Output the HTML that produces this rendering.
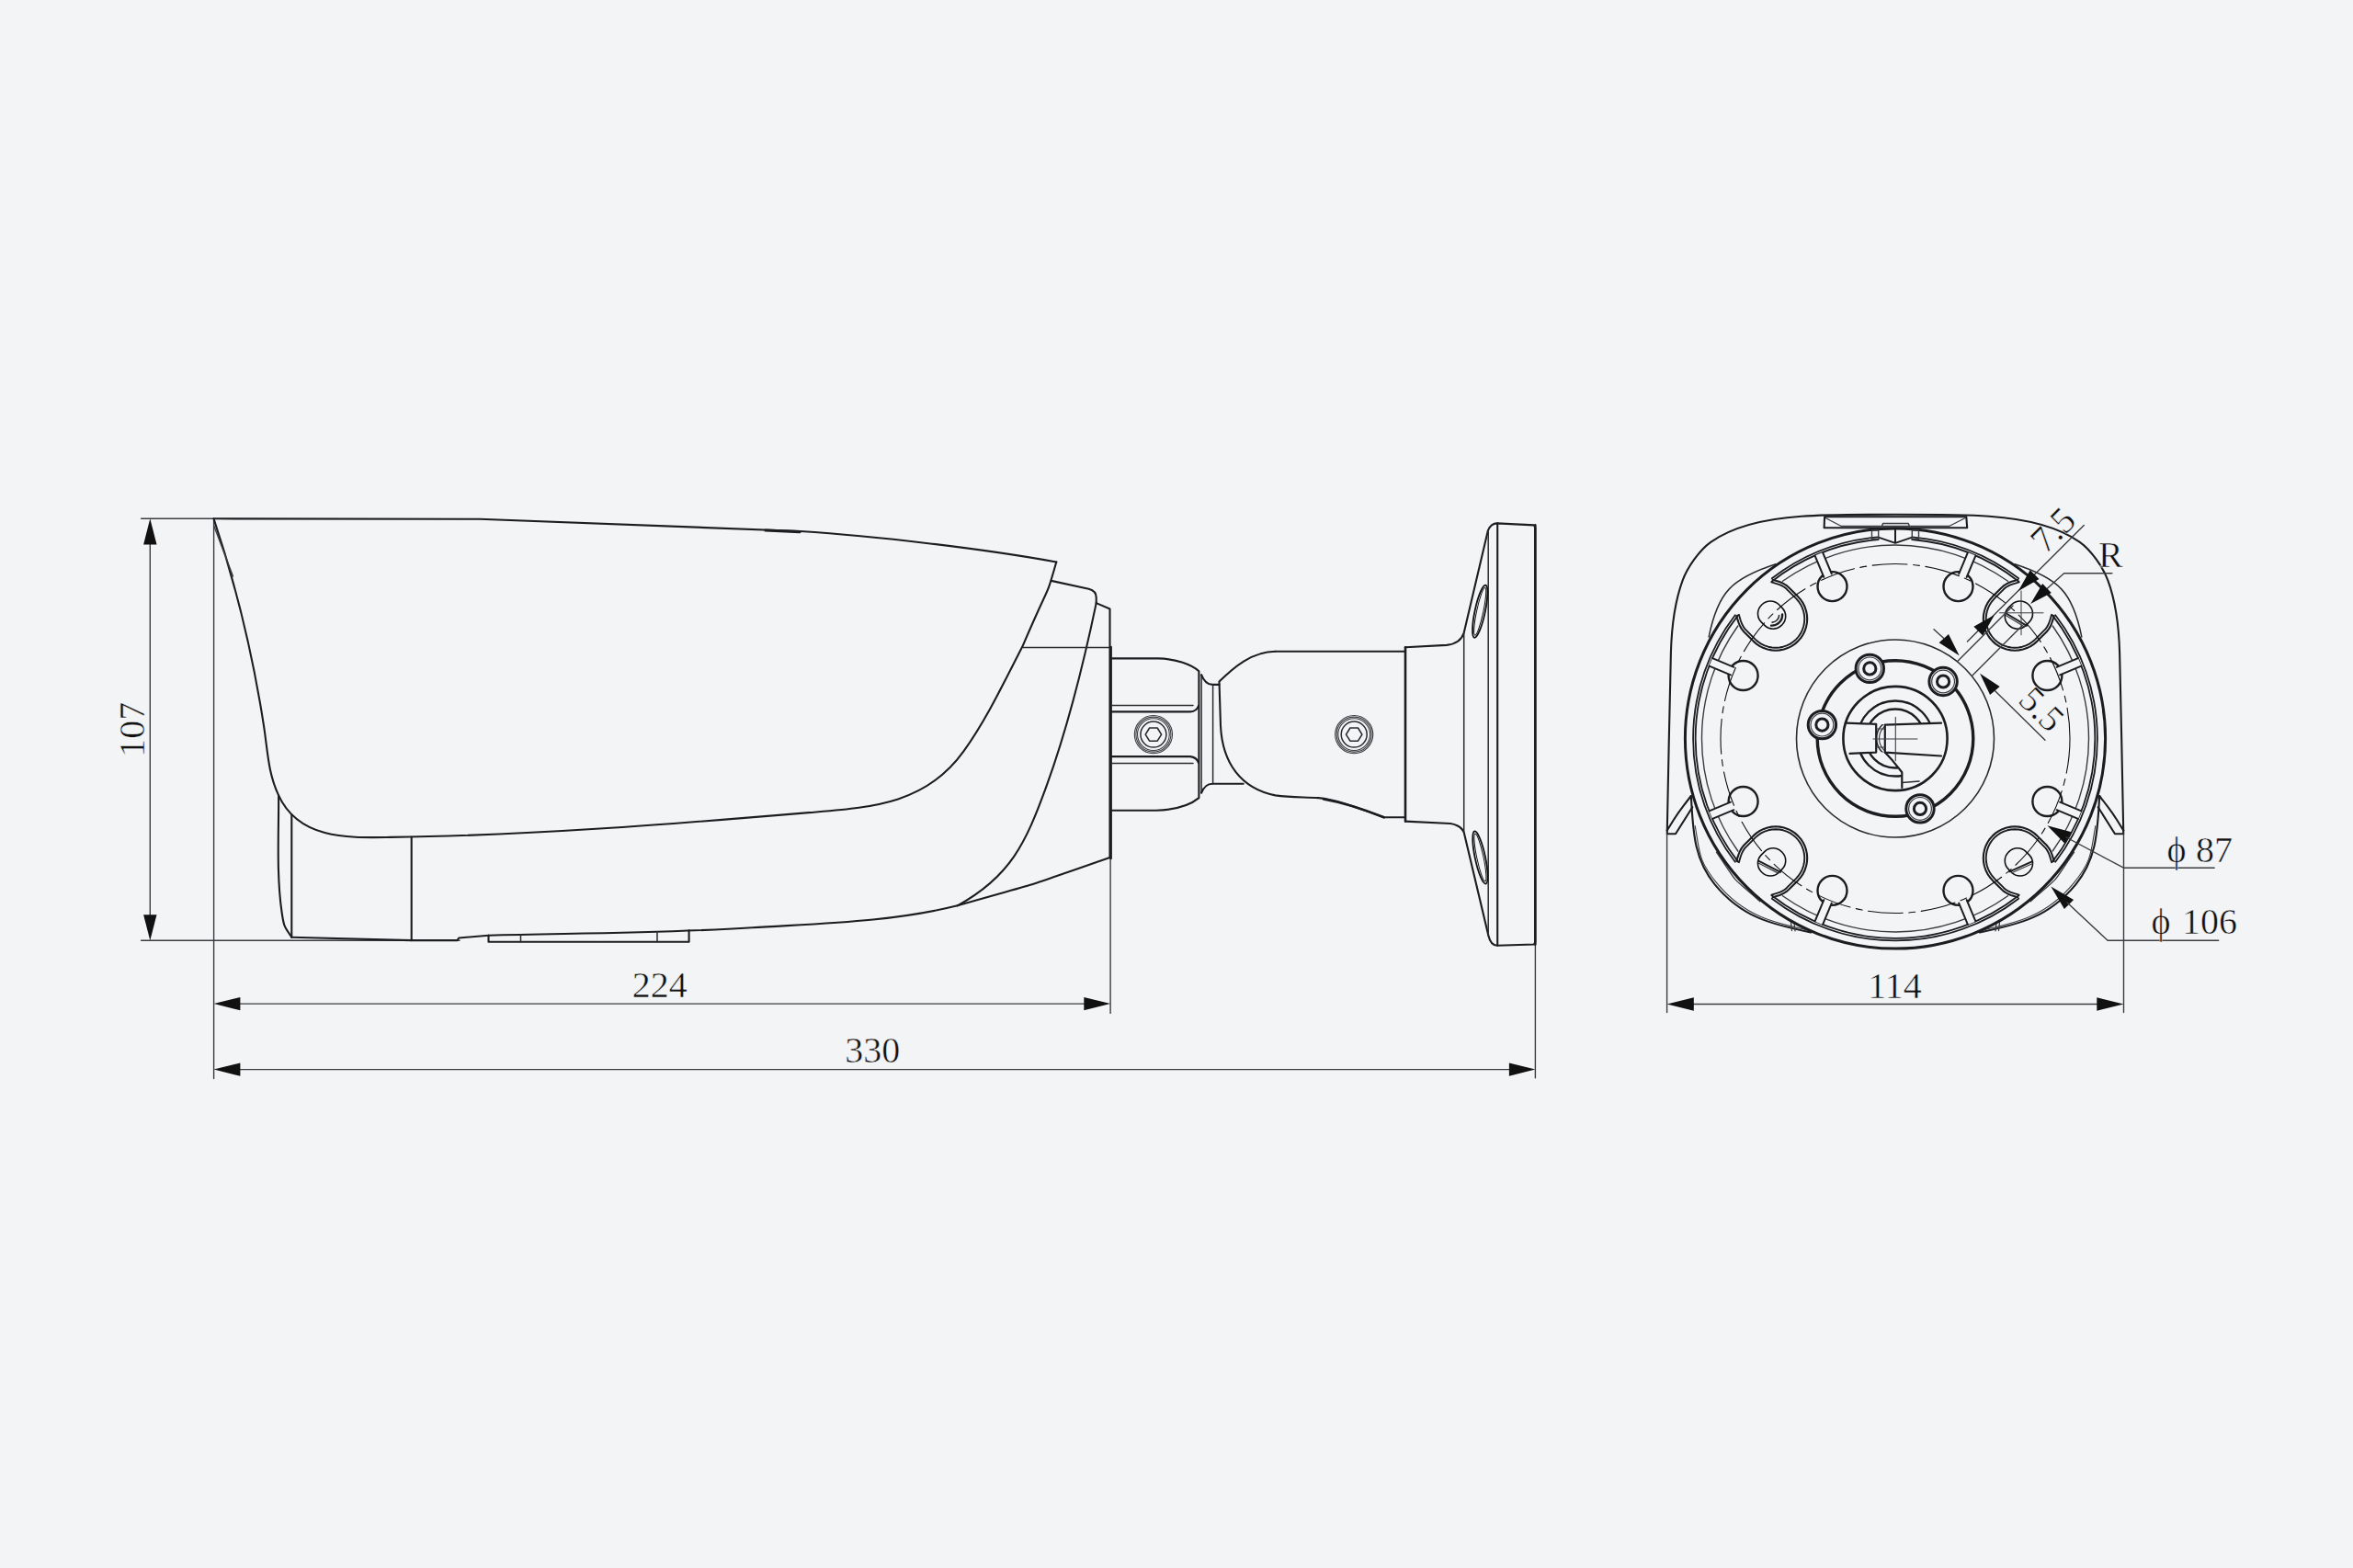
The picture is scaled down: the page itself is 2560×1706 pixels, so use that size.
<!DOCTYPE html>
<html><head><meta charset="utf-8"><style>
html,body{margin:0;padding:0;background:#f3f4f6;overflow:hidden;width:2560px;height:1706px;}
svg{display:block;}
text{font-family:"Liberation Serif",serif;fill:#111;stroke:#f3f4f6;stroke-width:0.5px;}
</style></head><body>
<svg width="2560" height="1706" viewBox="0 0 2560 1706" fill="none" stroke="#111" stroke-linecap="round" stroke-linejoin="round">
<line x1="153.6" y1="564.3" x2="232.7" y2="564.3" stroke-width="1.4" stroke="#3a3c40" />
<line x1="153.6" y1="1023.3" x2="500" y2="1023.3" stroke-width="1.4" stroke="#3a3c40" />
<line x1="163.3" y1="590" x2="163.3" y2="998" stroke-width="1.4" stroke="#3a3c40" />
<polygon points="163.3,564.3 156.1,592.4 170.5,592.4" fill="#111" stroke="none"/>
<polygon points="163.3,1023.3 170.5,995.2 156.1,995.2" fill="#111" stroke="none"/>
<line x1="232.6" y1="564.3" x2="232.6" y2="1173.5" stroke-width="1.4" stroke="#3a3c40" />
<line x1="258" y1="1092.1" x2="1182" y2="1092.1" stroke-width="1.4" stroke="#3a3c40" />
<polygon points="232.6,1092.1 261.4,1099.3 261.4,1084.9" fill="#111" stroke="none"/>
<polygon points="1208.1,1092.1 1179.3,1084.9 1179.3,1099.3" fill="#111" stroke="none"/>
<line x1="1208.1" y1="934.3" x2="1208.1" y2="1102.4" stroke-width="1.4" stroke="#3a3c40" />
<line x1="258" y1="1163.6" x2="1645" y2="1163.6" stroke-width="1.4" stroke="#3a3c40" />
<polygon points="232.6,1163.6 261.4,1170.8 261.4,1156.4" fill="#111" stroke="none"/>
<polygon points="1670.4,1163.6 1641.9,1156.4 1641.9,1170.8" fill="#111" stroke="none"/>
<line x1="1670.4" y1="1027.5" x2="1670.4" y2="1172.8" stroke-width="1.4" stroke="#3a3c40" />
<text x="717.8" y="1085.1" font-size="40" text-anchor="middle" >224</text>
<text x="949.2" y="1156" font-size="40" text-anchor="middle" >330</text>
<text x="157.3" y="793.8" font-size="40" text-anchor="middle" transform="rotate(-90 157.3 793.8)" >107</text>
<path d="M232.7,564.3 L522,564.7 L871,578 C950,583 1070,597 1149.3,611.5" stroke-width="2.1" stroke="#1c1d20" />
<line x1="833" y1="577" x2="870" y2="578.6" stroke-width="3.2" stroke="#1c1d20" />
<path d="M1149.3,611.5 C1136.2,656.1 1146.3,624.5 1112.2,703.8 C1092.4,742.1 1073.6,782.2 1048.4,817.4 C1006.7,875.7 947,878.4 880,884.1 C729.4,896.8 576,909 425,910.9 C380,911.5 325.4,914 303.1,865.4 C291.3,839.7 291.3,817.2 287,789.6 C275.1,712.4 257.4,638.6 232.6,564.6" stroke-width="2.1" stroke="#1c1d20" />
<line x1="232.6" y1="571.8" x2="253.5" y2="627" stroke-width="1.4" stroke="#3a3c40" />
<path d="M303.1,865.4 C303.4,906.9 300.6,950.6 306.5,992 C308.9,1009.1 309.5,1007.7 317.3,1019.7" stroke-width="2.1" stroke="#1c1d20" />
<line x1="317.3" y1="886.2" x2="317.3" y2="1019.7" stroke-width="2.1" stroke="#1c1d20" />
<line x1="447.7" y1="910.9" x2="447.7" y2="1023.1" stroke-width="2.1" stroke="#1c1d20" />
<polyline points="317.3,1019.7 447.7,1023.1 497.5,1023.1 499.2,1020.5 531.5,1017.7" stroke-width="2.1" stroke="#1c1d20" />
<path d="M531.5,1017.7 C627.1,1015.3 723,1015.3 818.5,1009.3 C891.9,1004.7 970.1,1003.3 1041.7,985.3" stroke-width="2.1" stroke="#1c1d20" />
<path d="M1041.7,985.3 C1153.6,953.4 1098.3,970.9 1207.5,933" stroke-width="2.1" stroke="#1c1d20" />
<polyline points="531.5,1017.7 531.5,1024.7 749.6,1024.7 749.6,1012.4" stroke-width="2.1" stroke="#1c1d20" />
<line x1="566.5" y1="1016.8" x2="566.5" y2="1024.7" stroke-width="1.5" stroke="#2a2b2f" />
<line x1="715" y1="1013.8" x2="715" y2="1024.7" stroke-width="1.5" stroke="#2a2b2f" />
<path d="M1143.7,631.9 L1184.5,640.8 Q1192.7,643 1192.7,650 L1192.7,656.1" stroke-width="2.1" stroke="#1c1d20" />
<path d="M1192.7,656.1 C1178.5,724 1162.3,789.8 1138.6,855.2 C1116,917.5 1099.1,953.9 1041.7,985.3" stroke-width="2.1" stroke="#1c1d20" />
<path d="M1192.7,656.1 L1207.5,662.5 L1207.5,933" stroke-width="2.1" stroke="#1c1d20" />
<line x1="1113.1" y1="704.6" x2="1207.5" y2="704.6" stroke-width="1.5" stroke="#2a2b2f" />
<path d="M1209,716.4 L1260.3,716.4 C1280,717 1296,723 1304.4,730.2 L1304.4,868.1 C1296,875 1280,881 1257.6,881.8 L1209,881.8" stroke-width="2.1" stroke="#1c1d20" />
<line x1="1208.7" y1="704" x2="1208.7" y2="934" stroke-width="2.4" stroke="#1c1d20" />
<line x1="1307.1" y1="734.4" x2="1307.1" y2="862.7" stroke-width="1.5" stroke="#2a2b2f" />
<line x1="1209" y1="767.4" x2="1298" y2="767.4" stroke-width="1.5" stroke="#2a2b2f" />
<path d="M1209,774.4 L1295,774.4 Q1302,774 1304,768" stroke-width="2.2" stroke="#1c1d20" />
<path d="M1209,823.2 L1295,823.2 Q1302,824 1304,830" stroke-width="2.2" stroke="#1c1d20" />
<line x1="1209" y1="830.6" x2="1298" y2="830.6" stroke-width="1.5" stroke="#2a2b2f" />
<circle cx="1254.9" cy="799.1" r="20.6" stroke-width="1.1" stroke="#3a3c40" />
<circle cx="1254.9" cy="799.1" r="19" stroke-width="1.1" stroke="#3a3c40" />
<circle cx="1254.9" cy="799.1" r="17.4" stroke-width="1.1" stroke="#3a3c40" />
<circle cx="1254.9" cy="799.1" r="14" stroke-width="1.5" stroke="#2a2b2f" />
<polygon points="1263.6,799.1 1259.2,806.2 1250.6,806.2 1246.2,799.1 1250.6,792 1259.2,792" stroke-width="1.6" stroke="#2a2b2f" />
<path d="M1307.1,734.2 C1310,742 1314,744.9 1319.2,744.9 L1326.5,744.9" stroke-width="2.1" stroke="#1c1d20" />
<path d="M1307.1,862.7 C1310,855 1314,852.7 1319.2,852.7 L1352.7,852.7" stroke-width="2.1" stroke="#1c1d20" />
<line x1="1319.6" y1="744.9" x2="1319.6" y2="852.7" stroke-width="1.5" stroke="#2a2b2f" />
<path d="M1387.5,708.7 C1362,708.7 1341.5,726.6 1326.5,741.6 L1328,790 C1330,830 1350,858 1387.5,865.4 C1405,868 1420,867 1434.3,868.1 C1455,870 1480,880 1505.6,889.3 L1527.7,889.3" stroke-width="2.1" stroke="#1c1d20" />
<line x1="1387.5" y1="708.7" x2="1528.4" y2="708.7" stroke-width="2.1" stroke="#1c1d20" />
<path d="M1440,869.5 C1460,873 1485,881 1505.6,889.3" stroke-width="2.6" stroke="#1c1d20" />
<circle cx="1473.2" cy="799.1" r="20.6" stroke-width="1.1" stroke="#3a3c40" />
<circle cx="1473.2" cy="799.1" r="19" stroke-width="1.1" stroke="#3a3c40" />
<circle cx="1473.2" cy="799.1" r="17.4" stroke-width="1.1" stroke="#3a3c40" />
<circle cx="1473.2" cy="799.1" r="14" stroke-width="1.5" stroke="#2a2b2f" />
<polygon points="1481.9,799.1 1477.5,806.2 1468.9,806.2 1464.5,799.1 1468.9,792 1477.5,792" stroke-width="1.6" stroke="#2a2b2f" />
<line x1="1529" y1="704.3" x2="1529" y2="893.6" stroke-width="2.6" stroke="#1c1d20" />
<path d="M1529,704.3 L1573.9,701.9 C1582,701 1590,697 1592.7,688.5 L1618.8,577.4 C1621,572 1624,569.4 1628.8,569.4 L1669,571.4 L1670.3,574 L1670.3,1025 L1669,1027.5 L1628.8,1028.8 C1624,1028.8 1621,1025 1619.4,1018.1 L1592.7,905.6 C1590,899 1582,896.5 1577.9,896 L1529,893.6" stroke-width="2.1" stroke="#1c1d20" />
<line x1="1670.3" y1="571.4" x2="1670.3" y2="1027.5" stroke-width="2.6" stroke="#1c1d20" />
<line x1="1592.7" y1="688.5" x2="1592.7" y2="905.6" stroke-width="1.5" stroke="#2a2b2f" />
<line x1="1619.2" y1="577.4" x2="1619.2" y2="1018.1" stroke-width="1.5" stroke="#2a2b2f" />
<line x1="1629.2" y1="569.4" x2="1629.2" y2="1028.8" stroke-width="2.1" stroke="#1c1d20" />
<ellipse cx="1610.2" cy="665.2" rx="5.6" ry="29.2" transform="rotate(12 1610.2 665.2)" stroke-width="1.8"/>
<ellipse cx="1610.2" cy="665.2" rx="3.6" ry="26.5" transform="rotate(12 1610.2 665.2)" stroke-width="1"/>
<ellipse cx="1610.4" cy="933" rx="5.6" ry="29.2" transform="rotate(-12 1610.4 933)" stroke-width="1.8"/>
<ellipse cx="1610.4" cy="933" rx="3.6" ry="26.5" transform="rotate(-12 1610.4 933)" stroke-width="1"/>
<path d="M1813.8,903.4 C1815.3,838.9 1816.1,774.5 1817.9,710 C1818.6,684.8 1821.9,655.3 1830.6,631.6 C1835.7,617.7 1849,598.4 1861.2,589.8 C1889.3,569.9 1926.6,564 1960,561.7 C1981.7,560.2 2040.7,559.8 2062,559.8 C2083.3,559.8 2142.3,560.2 2164,561.7 C2197.4,564 2234.7,569.9 2262.8,589.8 C2275,598.4 2288.3,617.7 2293.4,631.6 C2302.1,655.3 2305.4,684.8 2306.1,710 C2307.9,774.5 2308.7,838.9 2310.2,903.4" stroke-width="2.1" stroke="#1c1d20" />
<polyline points="1813.8,903.4 1813.8,907.3 1823,907.3 1841.3,878.2" stroke-width="2.1" stroke="#1c1d20" />
<path d="M1813.8,903.4 C1830,877.6 1821.4,890.1 1839.8,866" stroke-width="2.1" stroke="#1c1d20" />
<polyline points="2310.2,903.4 2310.2,907.3 2301,907.3 2282.7,878.2" stroke-width="2.1" stroke="#1c1d20" />
<path d="M2310.2,903.4 C2294,877.6 2302.6,890.1 2284.2,866" stroke-width="2.1" stroke="#1c1d20" />
<path d="M1839.8,866 C1842.1,901.3 1841.8,933.2 1865.7,962.3 C1895.1,998 1926.7,1005.5 1970,1014.5" stroke-width="2.1" stroke="#1c1d20" />
<path d="M1844.2,898.5 C1849.4,927.5 1847.4,935.9 1867.9,960.8 C1897.3,996.5 1928.9,1004 1972.2,1013" stroke-width="1.1" stroke="#3a3c40" />
<path d="M2284.2,866 C2281.9,901.3 2282.2,933.2 2258.3,962.3 C2228.9,998 2197.3,1005.5 2154,1014.5" stroke-width="2.1" stroke="#1c1d20" />
<path d="M2279.8,898.5 C2274.6,927.5 2276.6,935.9 2256.1,960.8 C2226.7,996.5 2195.1,1004 2151.8,1013" stroke-width="1.1" stroke="#3a3c40" />
<path d="M1867.4,927.2 C1894.8,966.8 1879,949 1914.8,980.7" stroke-width="1.3" stroke="#3a3c40" />
<line x1="1948.5" y1="1003.5" x2="1949.5" y2="1012.5" stroke-width="1.3" stroke="#3a3c40" />
<line x1="1952" y1="1004" x2="1953" y2="1012.8" stroke-width="1.3" stroke="#3a3c40" />
<line x1="2175.5" y1="1003.5" x2="2174.5" y2="1012.5" stroke-width="1.3" stroke="#3a3c40" />
<line x1="2172" y1="1004" x2="2171" y2="1012.8" stroke-width="1.3" stroke="#3a3c40" />
<path d="M2256.6,927.2 C2229.2,966.8 2245,949 2209.2,980.7" stroke-width="1.3" stroke="#3a3c40" />
<path d="M1932,613.8 C1884.2,629.3 1868.9,644.1 1859.2,692.9" stroke-width="1.5" stroke="#2a2b2f" />
<path d="M2192,613.8 C2239.8,629.3 2255.1,644.1 2264.8,692.9" stroke-width="1.5" stroke="#2a2b2f" />
<polygon points="1985.1,562.3 2139.3,562.3 2140.2,574.2 1984.6,574.2" stroke-width="2.1" stroke="#1c1d20" />
<polyline points="1986,563.5 2003.3,572.5 2120.6,572.5 2138.3,563.5" stroke-width="1.4" stroke="#3a3c40" />
<polyline points="2047.5,572.5 2048.5,569.5 2076.3,569.5 2077.3,572.5" stroke-width="1.4" stroke="#3a3c40" />
<circle cx="2062" cy="803.5" r="228.6" stroke-width="3.0" stroke="#1c1d20" />
<path d="M2196.4,974.3 A217.3,217.3 0 0 1 1927.6,974.3" stroke-width="1.8" stroke="#1c1d20" />
<path d="M1891.2,937.9 A217.3,217.3 0 0 1 1891.2,669.1" stroke-width="1.8" stroke="#1c1d20" />
<path d="M1927.6,632.7 A217.3,217.3 0 0 1 2043.8,587" stroke-width="1.8" stroke="#1c1d20" />
<path d="M2080.2,587 A217.3,217.3 0 0 1 2196.4,632.7" stroke-width="1.8" stroke="#1c1d20" />
<path d="M2232.8,669.1 A217.3,217.3 0 0 1 2232.8,937.9" stroke-width="1.8" stroke="#1c1d20" />
<path d="M2196.2,977.7 A219.9,219.9 0 0 1 1927.8,977.7" stroke-width="1.8" stroke="#1c1d20" />
<path d="M1887.8,937.7 A219.9,219.9 0 0 1 1887.8,669.3" stroke-width="1.8" stroke="#1c1d20" />
<path d="M1927.8,629.3 A219.9,219.9 0 0 1 2043.6,584.4" stroke-width="1.8" stroke="#1c1d20" />
<path d="M2080.4,584.4 A219.9,219.9 0 0 1 2196.2,629.3" stroke-width="1.8" stroke="#1c1d20" />
<path d="M2236.2,669.3 A219.9,219.9 0 0 1 2236.2,937.7" stroke-width="1.8" stroke="#1c1d20" />
<path d="M2184.5,974.7 A210.5,210.5 0 0 1 1939.5,974.7" stroke-width="1.4" stroke="#3a3c40" />
<path d="M1890.8,926 A210.5,210.5 0 0 1 1890.8,681" stroke-width="1.4" stroke="#3a3c40" />
<path d="M1939.5,632.3 A210.5,210.5 0 0 1 2184.5,632.3" stroke-width="1.4" stroke="#3a3c40" />
<path d="M2233.2,681 A210.5,210.5 0 0 1 2233.2,926" stroke-width="1.4" stroke="#3a3c40" />
<polyline points="2043.7,584.6 2062,590.8 2080.3,584.6" stroke-width="1.8" stroke="#1c1d20" />
<line x1="2062" y1="575.5" x2="2062" y2="590" stroke-width="2.0" stroke="#1c1d20" />
<polygon points="2036.5,577 2043.7,577 2043.7,586.5 2036.5,586.5" stroke-width="1.4" stroke="#3a3c40" />
<polygon points="2080.3,577 2087.5,577 2087.5,586.5 2080.3,586.5" stroke-width="1.4" stroke="#3a3c40" />
<polyline points="2234.7,936.9 2234,934.4 2233.2,931.9 2232.4,929.5 2231.5,927.1 2230.4,924.9 2229.2,922.9 2227.8,921 2226.3,919.3 2216.4,909.4 2213,906.4 2209.3,903.9 2205.2,901.9 2201,900.5 2196.6,899.6 2192.1,899.3 2187.6,899.6 2183.2,900.5 2179,901.9 2175,903.9 2171.2,906.4 2167.9,909.4 2164.9,912.7 2162.4,916.5 2160.4,920.5 2159,924.7 2158.1,929.1 2157.8,933.6 2158.1,938.1 2159,942.5 2160.4,946.7 2162.4,950.8 2164.9,954.5 2167.9,957.9 2177.8,967.8 2179.5,969.3 2181.4,970.7 2183.4,971.9 2185.6,973 2188,973.9 2190.4,974.7 2192.9,975.5 2195.4,976.2" stroke-width="2.1" stroke="#1c1d20" />
<polyline points="2232.1,938.2 2231.4,935.8 2230.7,933.4 2229.9,931 2229.1,928.8 2228.1,926.7 2227,924.7 2225.7,922.9 2224.2,921.3 2214.3,911.4 2211.2,908.7 2207.8,906.4 2204.1,904.6 2200.2,903.3 2196.2,902.5 2192.1,902.2 2188,902.5 2184,903.3 2180.1,904.6 2176.4,906.4 2173,908.7 2169.9,911.4 2167.2,914.5 2164.9,917.9 2163.1,921.6 2161.8,925.5 2161,929.5 2160.7,933.6 2161,937.7 2161.8,941.7 2163.1,945.6 2164.9,949.3 2167.2,952.7 2169.9,955.8 2179.8,965.7 2181.4,967.2 2183.2,968.5 2185.2,969.6 2187.3,970.6 2189.5,971.4 2191.9,972.2 2194.3,972.9 2196.7,973.6" stroke-width="1.9" stroke="#1c1d20" />
<rect x="2182.9" y="922.4" width="27" height="31" rx="13" transform="rotate(135 2196.4 937.9)" stroke-width="1.6"/>
<line x1="2186.3" y1="948.3" x2="2210.8" y2="937.4" stroke-width="2.0" stroke="#1c1d20" />
<line x1="2188.6" y1="949.7" x2="2210.4" y2="940" stroke-width="1.2" stroke="#3a3c40" />
<polyline points="1928.6,976.2 1931.1,975.5 1933.6,974.7 1936,973.9 1938.4,973 1940.6,971.9 1942.6,970.7 1944.5,969.3 1946.2,967.8 1956.1,957.9 1959.1,954.5 1961.6,950.8 1963.6,946.7 1965,942.5 1965.9,938.1 1966.2,933.6 1965.9,929.1 1965,924.7 1963.6,920.5 1961.6,916.5 1959.1,912.7 1956.1,909.4 1952.8,906.4 1949,903.9 1945,901.9 1940.8,900.5 1936.4,899.6 1931.9,899.3 1927.4,899.6 1923,900.5 1918.8,901.9 1914.7,903.9 1911,906.4 1907.6,909.4 1897.7,919.3 1896.2,921 1894.8,922.9 1893.6,924.9 1892.5,927.1 1891.6,929.5 1890.8,931.9 1890,934.4 1889.3,936.9" stroke-width="2.1" stroke="#1c1d20" />
<polyline points="1927.3,973.6 1929.7,972.9 1932.1,972.2 1934.5,971.4 1936.7,970.6 1938.8,969.6 1940.8,968.5 1942.6,967.2 1944.2,965.7 1954.1,955.8 1956.8,952.7 1959.1,949.3 1960.9,945.6 1962.2,941.7 1963,937.7 1963.3,933.6 1963,929.5 1962.2,925.5 1960.9,921.6 1959.1,917.9 1956.8,914.5 1954.1,911.4 1951,908.7 1947.6,906.4 1943.9,904.6 1940,903.3 1936,902.5 1931.9,902.2 1927.8,902.5 1923.8,903.3 1919.9,904.6 1916.2,906.4 1912.8,908.7 1909.7,911.4 1899.8,921.3 1898.3,922.9 1897,924.7 1895.9,926.7 1894.9,928.8 1894.1,931 1893.3,933.4 1892.6,935.8 1891.9,938.2" stroke-width="1.9" stroke="#1c1d20" />
<rect x="1914.1" y="922.4" width="27" height="31" rx="13" transform="rotate(225 1927.6 937.9)" stroke-width="1.6"/>
<line x1="1913.2" y1="936.7" x2="1937.1" y2="948.8" stroke-width="2.0" stroke="#1c1d20" />
<line x1="1913.5" y1="939.3" x2="1934.8" y2="950.1" stroke-width="1.2" stroke="#3a3c40" />
<polyline points="1889.3,670.1 1890,672.6 1890.8,675.1 1891.6,677.5 1892.5,679.9 1893.6,682.1 1894.8,684.1 1896.2,686 1897.7,687.7 1907.6,697.6 1911,700.6 1914.7,703.1 1918.8,705.1 1923,706.5 1927.4,707.4 1931.9,707.7 1936.4,707.4 1940.8,706.5 1945,705.1 1949,703.1 1952.8,700.6 1956.1,697.6 1959.1,694.3 1961.6,690.5 1963.6,686.5 1965,682.3 1965.9,677.9 1966.2,673.4 1965.9,668.9 1965,664.5 1963.6,660.3 1961.6,656.2 1959.1,652.5 1956.1,649.1 1946.2,639.2 1944.5,637.7 1942.6,636.3 1940.6,635.1 1938.4,634 1936,633.1 1933.6,632.3 1931.1,631.5 1928.6,630.8" stroke-width="2.1" stroke="#1c1d20" />
<polyline points="1891.9,668.8 1892.6,671.2 1893.3,673.6 1894.1,676 1894.9,678.2 1895.9,680.3 1897,682.3 1898.3,684.1 1899.8,685.7 1909.7,695.6 1912.8,698.3 1916.2,700.6 1919.9,702.4 1923.8,703.7 1927.8,704.5 1931.9,704.8 1936,704.5 1940,703.7 1943.9,702.4 1947.6,700.6 1951,698.3 1954.1,695.6 1956.8,692.5 1959.1,689.1 1960.9,685.4 1962.2,681.5 1963,677.5 1963.3,673.4 1963,669.3 1962.2,665.3 1960.9,661.4 1959.1,657.7 1956.8,654.3 1954.1,651.2 1944.2,641.3 1942.6,639.8 1940.8,638.5 1938.8,637.4 1936.7,636.4 1934.5,635.6 1932.1,634.8 1929.7,634.1 1927.3,633.4" stroke-width="1.9" stroke="#1c1d20" />
<rect x="1914.1" y="653.6" width="27" height="31" rx="13" transform="rotate(315 1927.6 669.1)" stroke-width="1.6"/>
<path d="M1939.1,668.5 A11.5,11.5 0 0 1 1927,680.6" stroke-width="2.4" stroke="#1c1d20" />
<path d="M1935.6,669.6 A8,8 0 0 1 1928.1,677.1" stroke-width="1.6" stroke="#2a2b2f" />
<polyline points="2195.4,630.8 2192.9,631.5 2190.4,632.3 2188,633.1 2185.6,634 2183.4,635.1 2181.4,636.3 2179.5,637.7 2177.8,639.2 2167.9,649.1 2164.9,652.5 2162.4,656.2 2160.4,660.3 2159,664.5 2158.1,668.9 2157.8,673.4 2158.1,677.9 2159,682.3 2160.4,686.5 2162.4,690.5 2164.9,694.3 2167.9,697.6 2171.2,700.6 2175,703.1 2179,705.1 2183.2,706.5 2187.6,707.4 2192.1,707.7 2196.6,707.4 2201,706.5 2205.2,705.1 2209.3,703.1 2213,700.6 2216.4,697.6 2226.3,687.7 2227.8,686 2229.2,684.1 2230.4,682.1 2231.5,679.9 2232.4,677.5 2233.2,675.1 2234,672.6 2234.7,670.1" stroke-width="2.1" stroke="#1c1d20" />
<polyline points="2196.7,633.4 2194.3,634.1 2191.9,634.8 2189.5,635.6 2187.3,636.4 2185.2,637.4 2183.2,638.5 2181.4,639.8 2179.8,641.3 2169.9,651.2 2167.2,654.3 2164.9,657.7 2163.1,661.4 2161.8,665.3 2161,669.3 2160.7,673.4 2161,677.5 2161.8,681.5 2163.1,685.4 2164.9,689.1 2167.2,692.5 2169.9,695.6 2173,698.3 2176.4,700.6 2180.1,702.4 2184,703.7 2188,704.5 2192.1,704.8 2196.2,704.5 2200.2,703.7 2204.1,702.4 2207.8,700.6 2211.2,698.3 2214.3,695.6 2224.2,685.7 2225.7,684.1 2227,682.3 2228.1,680.3 2229.1,678.2 2229.9,676 2230.7,673.6 2231.4,671.2 2232.1,668.8" stroke-width="1.9" stroke="#1c1d20" />
<rect x="2182.9" y="653.6" width="27" height="31" rx="13" transform="rotate(405 2196.4 669.1)" stroke-width="1.6"/>
<line x1="2182" y1="667" x2="2205" y2="680.8" stroke-width="2.0" stroke="#1c1d20" />
<line x1="2182.2" y1="669.6" x2="2202.6" y2="681.9" stroke-width="1.2" stroke="#3a3c40" />
<circle cx="2227.4" cy="872" r="16" stroke-width="2.4" stroke="#1c1d20" />
<polygon points="2237.6,881.2 2260.9,890.9 2264.4,882.4 2241.1,872.7" fill="#f3f4f6" stroke="none"/>
<line x1="2237.6" y1="881.2" x2="2260.9" y2="890.9" stroke-width="2.0" stroke="#1c1d20" />
<line x1="2241.1" y1="872.7" x2="2264.4" y2="882.4" stroke-width="2.0" stroke="#1c1d20" />
<circle cx="2130.5" cy="968.9" r="16" stroke-width="2.4" stroke="#1c1d20" />
<polygon points="2131.2,982.6 2140.9,1005.9 2149.4,1002.4 2139.7,979.1" fill="#f3f4f6" stroke="none"/>
<line x1="2131.2" y1="982.6" x2="2140.9" y2="1005.9" stroke-width="2.0" stroke="#1c1d20" />
<line x1="2139.7" y1="979.1" x2="2149.4" y2="1002.4" stroke-width="2.0" stroke="#1c1d20" />
<circle cx="1993.5" cy="968.9" r="16" stroke-width="2.4" stroke="#1c1d20" />
<polygon points="1984.3,979.1 1974.6,1002.4 1983.1,1005.9 1992.8,982.6" fill="#f3f4f6" stroke="none"/>
<line x1="1984.3" y1="979.1" x2="1974.6" y2="1002.4" stroke-width="2.0" stroke="#1c1d20" />
<line x1="1992.8" y1="982.6" x2="1983.1" y2="1005.9" stroke-width="2.0" stroke="#1c1d20" />
<circle cx="1896.6" cy="872" r="16" stroke-width="2.4" stroke="#1c1d20" />
<polygon points="1882.9,872.7 1859.6,882.4 1863.1,890.9 1886.4,881.2" fill="#f3f4f6" stroke="none"/>
<line x1="1882.9" y1="872.7" x2="1859.6" y2="882.4" stroke-width="2.0" stroke="#1c1d20" />
<line x1="1886.4" y1="881.2" x2="1863.1" y2="890.9" stroke-width="2.0" stroke="#1c1d20" />
<circle cx="1896.6" cy="735" r="16" stroke-width="2.4" stroke="#1c1d20" />
<polygon points="1886.4,725.8 1863.1,716.1 1859.6,724.6 1882.9,734.3" fill="#f3f4f6" stroke="none"/>
<line x1="1886.4" y1="725.8" x2="1863.1" y2="716.1" stroke-width="2.0" stroke="#1c1d20" />
<line x1="1882.9" y1="734.3" x2="1859.6" y2="724.6" stroke-width="2.0" stroke="#1c1d20" />
<circle cx="1993.5" cy="638.1" r="16" stroke-width="2.4" stroke="#1c1d20" />
<polygon points="1992.8,624.4 1983.1,601.1 1974.6,604.6 1984.3,627.9" fill="#f3f4f6" stroke="none"/>
<line x1="1992.8" y1="624.4" x2="1983.1" y2="601.1" stroke-width="2.0" stroke="#1c1d20" />
<line x1="1984.3" y1="627.9" x2="1974.6" y2="604.6" stroke-width="2.0" stroke="#1c1d20" />
<circle cx="2130.5" cy="638.1" r="16" stroke-width="2.4" stroke="#1c1d20" />
<polygon points="2139.7,627.9 2149.4,604.6 2140.9,601.1 2131.2,624.4" fill="#f3f4f6" stroke="none"/>
<line x1="2139.7" y1="627.9" x2="2149.4" y2="604.6" stroke-width="2.0" stroke="#1c1d20" />
<line x1="2131.2" y1="624.4" x2="2140.9" y2="601.1" stroke-width="2.0" stroke="#1c1d20" />
<circle cx="2227.4" cy="735" r="16" stroke-width="2.4" stroke="#1c1d20" />
<polygon points="2241.1,734.3 2264.4,724.6 2260.9,716.1 2237.6,725.8" fill="#f3f4f6" stroke="none"/>
<line x1="2241.1" y1="734.3" x2="2264.4" y2="724.6" stroke-width="2.0" stroke="#1c1d20" />
<line x1="2237.6" y1="725.8" x2="2260.9" y2="716.1" stroke-width="2.0" stroke="#1c1d20" />
<circle cx="2062" cy="803.5" r="190" stroke-width="1.1" stroke-dasharray="38 6.5 7 6.5"/>
<circle cx="2062" cy="803.5" r="107.5" stroke-width="1.6" stroke="#2a2b2f" />
<circle cx="2062" cy="803.5" r="84.8" stroke-width="3.4" stroke="#1c1d20" />
<circle cx="2062" cy="803.5" r="56.6" stroke-width="2.6" stroke="#1c1d20" />
<clipPath id="cTop"><polygon points="1990,700 2140,700 2140,786.2 2050.8,788.2 2041.2,787.3 1990,785.6"/></clipPath>
<clipPath id="cBot"><polygon points="1990,820.3 2041.2,819.1 2050.8,819.1 2059.1,828.1 2068.8,840.3 2068.8,900 1990,900"/></clipPath>
<g clip-path="url(#cTop)">
<circle cx="2062" cy="803.5" r="41" stroke-width="2.4" stroke="#1c1d20" />
<circle cx="2062" cy="803.5" r="32" stroke-width="2.4" stroke="#1c1d20" />
</g><g clip-path="url(#cBot)">
<circle cx="2062" cy="803.5" r="41" stroke-width="2.4" stroke="#1c1d20" />
<circle cx="2062" cy="803.5" r="32" stroke-width="2.4" stroke="#1c1d20" />
</g>
<clipPath id="cMid"><rect x="2041.5" y="788" width="9" height="30.5"/></clipPath><g clip-path="url(#cMid)">
<circle cx="2062" cy="803.5" r="20.5" stroke-width="1.6" stroke="#2a2b2f" />
<circle cx="2062" cy="803.5" r="17.5" stroke-width="1.2" stroke="#3a3c40" />
</g>
<circle cx="2089" cy="879.9" r="15.2" stroke-width="3.0" stroke="#1c1d20" fill="#f3f4f6"/>
<circle cx="2089" cy="879.9" r="12.4" stroke-width="1.2" stroke="#3a3c40" />
<circle cx="2089" cy="879.9" r="6.6" stroke-width="3.0" stroke="#1c1d20" />
<circle cx="1982.4" cy="788.6" r="15.2" stroke-width="3.0" stroke="#1c1d20" fill="#f3f4f6"/>
<circle cx="1982.4" cy="788.6" r="12.4" stroke-width="1.2" stroke="#3a3c40" />
<circle cx="1982.4" cy="788.6" r="6.6" stroke-width="3.0" stroke="#1c1d20" />
<circle cx="2034.3" cy="727.4" r="15.2" stroke-width="3.0" stroke="#1c1d20" fill="#f3f4f6"/>
<circle cx="2034.3" cy="727.4" r="12.4" stroke-width="1.2" stroke="#3a3c40" />
<circle cx="2034.3" cy="727.4" r="6.6" stroke-width="3.0" stroke="#1c1d20" />
<circle cx="2114.1" cy="741.5" r="15.2" stroke-width="3.0" stroke="#1c1d20" fill="#f3f4f6"/>
<circle cx="2114.1" cy="741.5" r="12.4" stroke-width="1.2" stroke="#3a3c40" />
<circle cx="2114.1" cy="741.5" r="6.6" stroke-width="3.0" stroke="#1c1d20" />
<polyline points="2008.7,786.7 2041.2,787.8 2041.2,818.6 2012.5,819.9" stroke-width="2.2" stroke="#1c1d20" />
<polyline points="2112,786.7 2050.8,788.7 2050.8,818.6 2112,822.5" stroke-width="2.2" stroke="#1c1d20" />
<line x1="2042" y1="793" x2="2050" y2="793" stroke-width="1.2" stroke="#3a3c40" />
<line x1="2042" y1="813" x2="2050" y2="813" stroke-width="1.2" stroke="#3a3c40" />
<polyline points="2050.8,818.6 2059.1,827.6 2069.3,840.3 2069.3,856.9" stroke-width="2.2" stroke="#1c1d20" />
<line x1="2069.3" y1="851.5" x2="2088" y2="850" stroke-width="1.6" stroke="#2a2b2f" />
<line x1="2062.3" y1="780.4" x2="2062.3" y2="827.6" stroke-width="1.1" stroke="#3a3c40" />
<line x1="2038" y1="804" x2="2085.9" y2="804" stroke-width="1.1" stroke="#3a3c40" />
<line x1="1813.6" y1="907.3" x2="1813.6" y2="1101.5" stroke-width="1.4" stroke="#3a3c40" />
<line x1="2310.5" y1="907.3" x2="2310.5" y2="1101.5" stroke-width="1.4" stroke="#3a3c40" />
<line x1="1840" y1="1092.5" x2="2284" y2="1092.5" stroke-width="1.4" stroke="#3a3c40" />
<polygon points="1813.6,1092.5 1842.8,1099.7 1842.8,1085.3" fill="#111" stroke="none"/>
<polygon points="2310.5,1092.5 2281.3,1085.3 2281.3,1099.7" fill="#111" stroke="none"/>
<text x="2061.4" y="1086.1" font-size="40" text-anchor="middle" >114</text>
<polygon points="2227.4,898.3 2246.4,917.7 2253.6,905.3" fill="#111" stroke="none"/>
<polyline points="2248,911 2310.4,944.2 2409.2,944.2" stroke-width="1.4" stroke="#3a3c40" />
<polygon points="2231.3,964.6 2245.9,989.1 2256.1,978.9" fill="#111" stroke="none"/>
<polyline points="2249,982 2293.1,1023.3 2413.7,1023.3" stroke-width="1.4" stroke="#3a3c40" />
<text x="2368" y="937.8" font-size="40" text-anchor="middle" >ϕ</text>
<text x="2409" y="937.8" font-size="40" text-anchor="middle" >87</text>
<text x="2351" y="1016.3" font-size="40" text-anchor="middle" >ϕ</text>
<text x="2404" y="1016.3" font-size="40" text-anchor="middle" >106</text>
<text x="2296.3" y="616.8" font-size="40" text-anchor="middle" >R</text>
<line x1="2129.7" y1="719.4" x2="2190" y2="659" stroke-width="1.4" stroke="#3a3c40" />
<line x1="2146.1" y1="734.7" x2="2200" y2="680.8" stroke-width="1.4" stroke="#3a3c40" />
<line x1="2140.4" y1="698" x2="2267.3" y2="571.5" stroke-width="1.4" stroke="#3a3c40" />
<polyline points="2215,651.5 2245.6,623.8 2297.9,623.8" stroke-width="1.4" stroke="#3a3c40" />
<polygon points="2195.9,642.9 2218.5,630.1 2208.7,620.3" fill="#111" stroke="none"/>
<polygon points="2209.2,657.1 2231.8,645 2222.2,635" fill="#111" stroke="none"/>
<polygon points="2170,668.9 2147.4,681.7 2157.2,691.5" fill="#111" stroke="none"/>
<polygon points="2131.6,713.3 2120,690 2109.6,699.3" fill="#111" stroke="none"/>
<polygon points="2154.1,732.7 2165.1,756.1 2175.7,746.9" fill="#111" stroke="none"/>
<line x1="2114.8" y1="694.6" x2="2104" y2="684.7" stroke-width="1.4" stroke="#3a3c40" />
<line x1="2170.4" y1="751.5" x2="2225" y2="805.3" stroke-width="1.4" stroke="#3a3c40" />
<line x1="2199" y1="642.9" x2="2199" y2="690.8" stroke-width="1.0" stroke="#3a3c40" />
<line x1="2175.5" y1="666.8" x2="2223" y2="666.8" stroke-width="1.0" stroke="#3a3c40" />
<text x="2243" y="586" font-size="40" text-anchor="middle" transform="rotate(-45 2243 586)" >7.5</text>
<text x="2212" y="781" font-size="40" text-anchor="middle" transform="rotate(45 2212 781)" >5.5</text>
</svg></body></html>
